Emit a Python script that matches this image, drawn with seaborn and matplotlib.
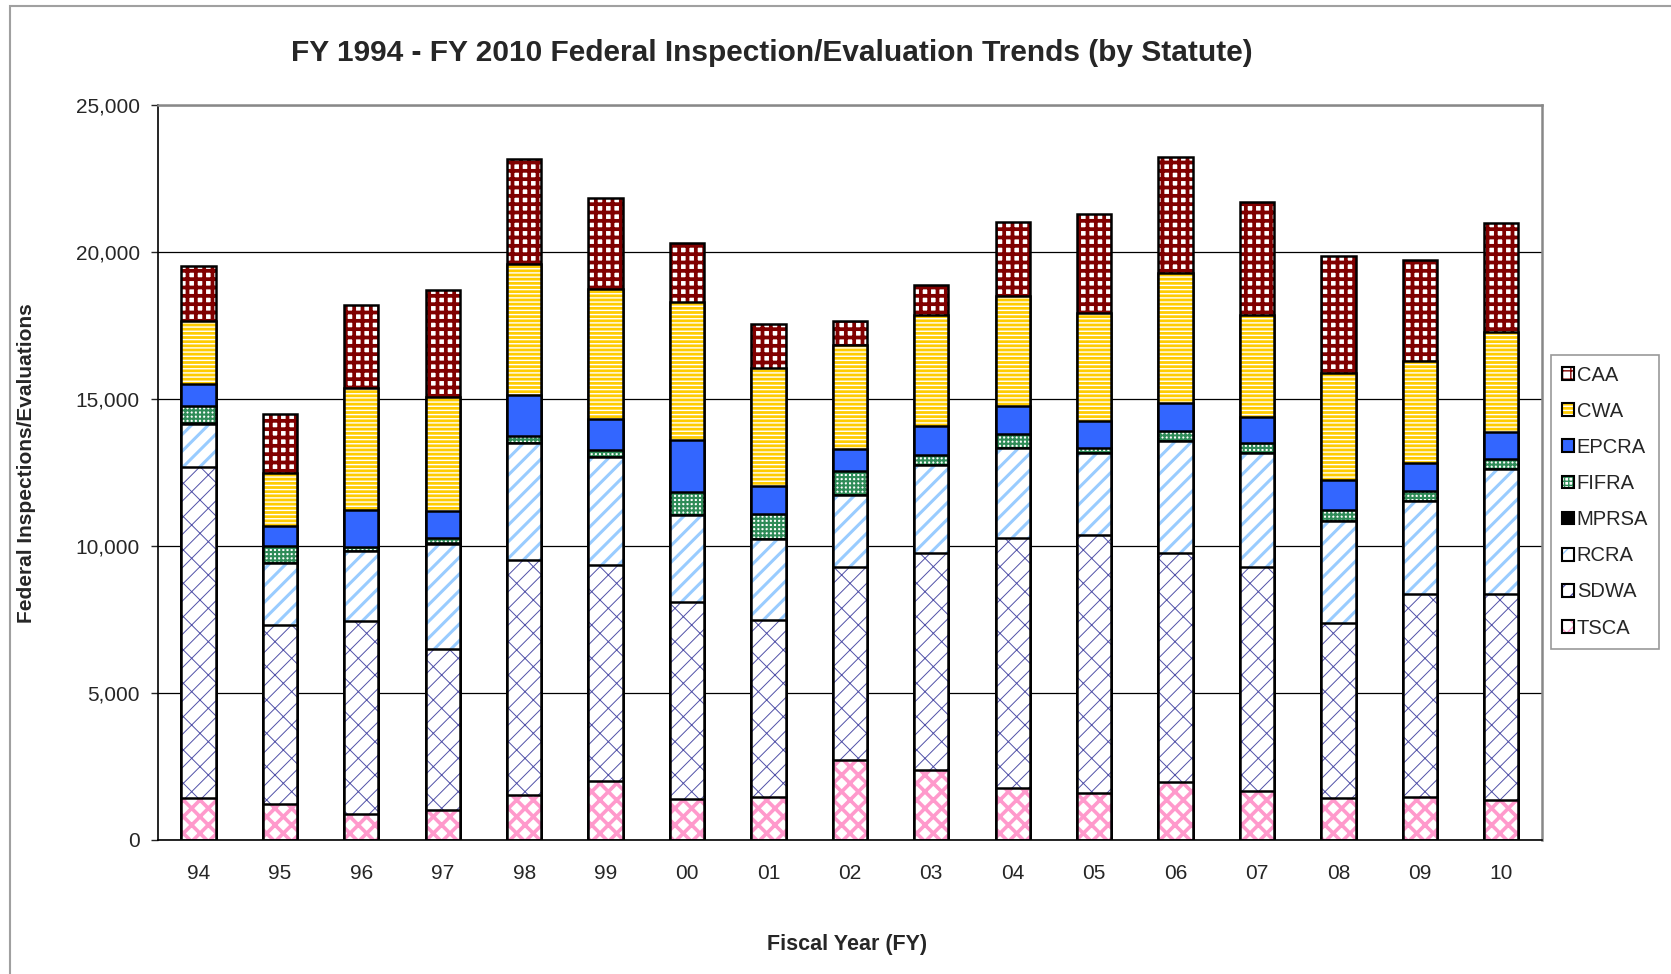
import pandas as pd
import matplotlib
matplotlib.use("Agg")
import matplotlib.pyplot as plt
from matplotlib.patches import Patch, Rectangle
from matplotlib.legend_handler import HandlerTuple
from matplotlib.ticker import FuncFormatter
import seaborn as sns

# fiscal years and inspections per statute (bottom of stack first)
years = ["94", "95", "96", "97", "98", "99", "00", "01", "02",
         "03", "04", "05", "06", "07", "08", "09", "10"]
tsca = [1430, 1210, 870, 1030, 1540, 2000, 1380, 1460, 2720,
        2370, 1770, 1600, 1980, 1660, 1430, 1460, 1350]
sdwa = [11250, 6110, 6570, 5460, 7970, 7340, 6730, 6020, 6560,
        7400, 8510, 8770, 7790, 7620, 5940, 6890, 7030]
rcra = [1480, 2090, 2400, 3590, 3980, 3690, 2940, 2750, 2460,
        2980, 3040, 2780, 3810, 3870, 3480, 3170, 4240]
mprsa = [8, 6, 5, 7, 9, 6, 5, 4, 6, 5, 7, 5, 6, 4, 5, 6, 5]
fifra = [590, 600, 110, 180, 250, 230, 780, 860, 810,
         330, 480, 190, 330, 340, 370, 330, 350]
epcra = [750, 650, 1270, 920, 1380, 1060, 1770, 940, 730,
         1000, 970, 920, 940, 890, 1010, 980, 890]
cwa = [2150, 1800, 4150, 3880, 4460, 4400, 4680, 4020, 3550,
       3770, 3710, 3650, 4440, 3480, 3660, 3460, 3420]
caa = [1860, 2040, 2810, 3630, 3570, 3100, 2030, 1490, 830,
       1030, 2540, 3370, 3930, 3850, 3970, 3420, 3700]

STATUTES = ["TSCA", "SDWA", "RCRA", "MPRSA", "FIFRA", "EPCRA", "CWA", "CAA"]

# face colour, hatch, hatch colour, hatch linewidth
STYLE = {
    "CAA":   ("white",   "++",   "#800000", 2.7),
    "CWA":   ("#FFCC00", "----", "white",   1.0),
    "EPCRA": ("#3366FF", "",     "#3366FF", 1.0),
    "FIFRA": ("white",   "++++", "#2E8B57", 1.5),
    "MPRSA": ("black",   "",     "black",   1.0),
    "RCRA":  ("white",   "//",   "#99CCFF", 2.2),
    "SDWA":  ("white",   "/x",   "#5050A8", 0.7),
    "TSCA":  ("white",   "xx",   "#FF99CC", 2.6),
}

df = pd.DataFrame({"FY": years, "TSCA": tsca, "SDWA": sdwa, "RCRA": rcra,
                   "MPRSA": mprsa, "FIFRA": fifra, "EPCRA": epcra,
                   "CWA": cwa, "CAA": caa})
cum = df[STATUTES].cumsum(axis=1)
cum["FY"] = df["FY"]

sns.set_style("white")
plt.rcParams["font.family"] = ["Liberation Sans", "DejaVu Sans"]

fig = plt.figure(figsize=(16.71, 9.74), dpi=100)
ax = fig.add_axes([0.0944, 0.1376, 0.8284, 0.7546])

BAR_W = 0.42
for name in reversed(STATUTES):
    face, hatch, hcol, hlw = STYLE[name]
    with plt.rc_context({"hatch.linewidth": hlw}):
        sns.barplot(data=cum, x="FY", y=name, order=years, color=face,
                    saturation=1, width=BAR_W, errorbar=None, ax=ax,
                    edgecolor=hcol, linewidth=0, hatch=hatch or None)
    for bar in ax.containers[-1]:
        if hasattr(bar, "set_hatch_linewidth"):
            bar.set_hatch_linewidth(hlw)
    sns.barplot(data=cum, x="FY", y=name, order=years, color="black",
                fill=False, width=BAR_W, errorbar=None, ax=ax, linewidth=1.8)

ax.set_ylim(0, 25000)
ax.set_yticks(range(0, 25001, 5000))
ax.yaxis.set_major_formatter(FuncFormatter(lambda v, _: f"{int(v):,}"))
ax.yaxis.grid(True, color="black", linewidth=0.9)
ax.set_axisbelow(True)
ax.set_xlabel("")
ax.set_ylabel("")
ax.tick_params(axis="y", direction="out", length=5, width=1, pad=8,
               labelsize=15, left=True)
ax.tick_params(axis="x", length=0, pad=17, labelsize=15)
for side in ["left", "bottom"]:
    ax.spines[side].set_color("black")
    ax.spines[side].set_linewidth(1.2)
for side in ["top", "right"]:
    ax.spines[side].set_color("#888888")
    ax.spines[side].set_linewidth(1.8)

fig.text(0.462, 0.946,
         "FY 1994 - FY 2010 Federal Inspection/Evaluation Trends (by Statute)",
         ha="center", va="center", fontsize=21.5, fontweight="bold")
fig.text(0.507, 0.030, "Fiscal Year (FY)", ha="center", va="center",
         fontsize=15.5, fontweight="bold")
fig.text(0.016, 0.524, "Federal Inspections/Evaluations", ha="center",
         va="center", rotation=90, fontsize=15, fontweight="bold")

handles = []
for name in reversed(STATUTES):
    face, hatch, hcol, hlw = STYLE[name]
    handles.append((Patch(facecolor=face, hatch=hatch or None, edgecolor=hcol,
                          linewidth=0),
                    Patch(fill=False, edgecolor="black", linewidth=1.5)))
leg = fig.legend(handles, list(reversed(STATUTES)),
                 handler_map={tuple: HandlerTuple(ndivide=1, pad=0)},
                 loc="center left", bbox_to_anchor=(0.928, 0.485),
                 borderaxespad=0, fontsize=14.5, frameon=True, fancybox=False,
                 framealpha=1, edgecolor="#999999", handlelength=0.6,
                 handleheight=0.6, handletextpad=0.15, labelspacing=0.85,
                 borderpad=0.55)
leg.get_frame().set_linewidth(1.2)

fig.add_artist(Rectangle((0.006, -0.05), 1.2, 1.0438, transform=fig.transFigure,
                         fill=False, edgecolor="#A0A0A0", linewidth=1.5))

fig.savefig("out.png", dpi=100)
plt.close(fig)
